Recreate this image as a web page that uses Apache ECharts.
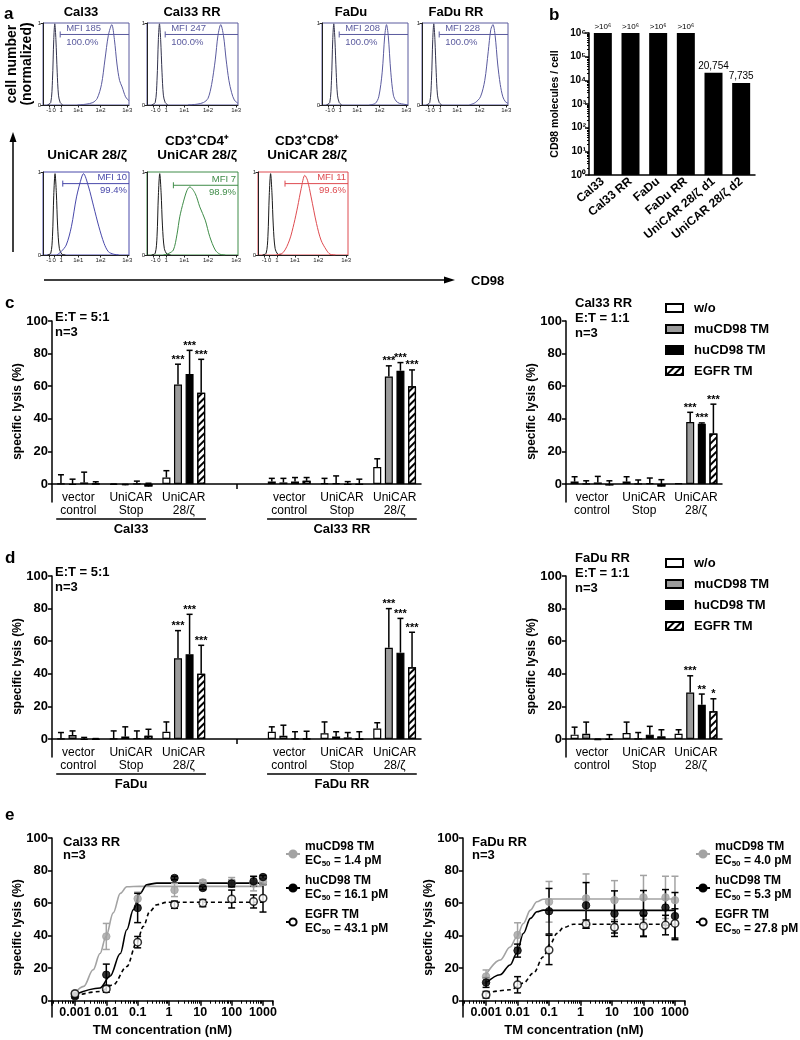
<!DOCTYPE html>
<html><head><meta charset="utf-8">
<script src="https://cdn.jsdelivr.net/npm/echarts@6/dist/echarts.min.js"></script>
<style>html,body{margin:0;padding:0;background:#fff}#c{width:800px;height:1040px}</style>
</head><body><div id="c"></div>
<script>
const FONT = '"Liberation Sans", Arial, Helvetica, sans-serif';

// ================= DATA =================
// ---- Panel a: flow cytometry histograms (x in display units of the biexponential axis, 0-100) ----
const histTickPos = [7, 13, 21, 41, 67, 98];
const histTickLabels = ['-1', '0', '1', '1e1', '1e2', '1e3'];
const histTitles = ['Cal33', 'Cal33 RR', 'FaDu', 'FaDu RR', 'UniCAR 28/ζ', 'CD3⁺CD4⁺\nUniCAR 28/ζ', 'CD3⁺CD8⁺\nUniCAR 28/ζ'];
const histMFI = ['MFI 185', 'MFI 247', 'MFI 208', 'MFI 228', 'MFI 10', 'MFI 7', 'MFI 11'];
const histPct = ['100.0%', '100.0%', '100.0%', '100.0%', '99.4%', '98.9%', '99.6%'];
const gateStart = [20, 20, 20, 20, 23, 29, 30];
const gateLevel = [0.86, 0.86, 0.86, 0.86, 0.86, 0.84, 0.86];
const ctrlTop = [[5,0],[9,0.03],[11,0.3],[12.5,0.8],[13.7,0.99],[15,0.8],[16.5,0.4],[18,0.12],[20,0.03],[23,0]];
const ctrlBottom = [[5,0],[9,0.02],[11,0.22],[12.5,0.72],[14,0.98],[15.5,0.75],[17,0.35],[19,0.08],[22,0.01],[26,0]];
const posCal33 = [[40,0],[50,0.01],[58,0.03],[63,0.08],[68,0.25],[72,0.55],[76,0.85],[80,0.98],[83,0.8],[86,0.5],[89,0.3],[92,0.22],[96,0.1],[100,0.05]];
const posCal33RR = [[45,0],[55,0.01],[62,0.03],[67,0.08],[71,0.25],[75,0.55],[78,0.85],[81,0.98],[84,0.85],[87,0.55],[90,0.3],[93,0.15],[96,0.06],[100,0.02]];
const posFaDu = [[55,0],[62,0.02],[66,0.1],[70,0.4],[73,0.85],[75,0.98],[77,0.85],[80,0.4],[83,0.12],[86,0.05],[90,0.02],[95,0.01],[100,0]];
const posFaDuRR = [[55,0],[62,0.03],[68,0.1],[73,0.3],[77,0.65],[80,0.92],[82.5,0.98],[85,0.85],[88,0.5],[91,0.25],[94,0.1],[97,0.04],[100,0.02]];
const posUniCAR = [[16,0],[21,0.04],[27,0.12],[33,0.34],[39,0.7],[45,0.94],[47,0.98],[53,0.82],[59,0.58],[65,0.34],[71,0.14],[76,0.04],[82,0.01],[88,0]];
const posCD4 = [[18,0],[24,0.02],[29,0.06],[33,0.25],[36,0.46],[40,0.64],[44,0.78],[47,0.82],[53,0.74],[58,0.58],[64,0.42],[69,0.22],[75,0.06],[80,0.01],[86,0]];
const posCD8 = [[20,0],[28,0.03],[35,0.18],[40,0.38],[44,0.58],[48,0.8],[52,0.96],[55,0.9],[59,0.7],[65,0.38],[70,0.18],[76,0.06],[80,0.01],[86,0]];

// ---- Panel b: CD98 molecules per cell ----
const bCategories = ['Cal33', 'Cal33 RR', 'FaDu', 'FaDu RR', 'UniCAR 28/ζ d1', 'UniCAR 28/ζ d2'];
const bValues = [1e6, 1e6, 1e6, 1e6, 20754, 7735];
const bValueLabels = ['>10⁶', '>10⁶', '>10⁶', '>10⁶', '20,754', '7,735'];

// ---- Panels c/d: specific lysis bar charts ----
const barNames = ['w/o', 'muCD98 TM', 'huCD98 TM', 'EGFR TM'];
const catsTwoLines = ['vector\ncontrol', 'UniCAR\nStop', 'UniCAR\n28/ζ', '', 'vector\ncontrol', 'UniCAR\nStop', 'UniCAR\n28/ζ'];
const catsOneLine = ['vector\ncontrol', 'UniCAR\nStop', 'UniCAR\n28/ζ'];
const lysisTicks = [0, 20, 40, 60, 80, 100];
const S3 = ['', '', '***', '', '', '', '***'];
const S3r = ['', '', '***'];

// c, left: Cal33 | Cal33 RR, E:T 5:1
const cL_wo = [0.3, -0.5, 4, null, 1.5, 0.5, 10.5];   const cL_woErr = [5.4, 0.5, 4.2, null, 2, 3, 5];
const cL_mu = [-0.5, -0.7, 61, null, 1, 0.5, 66];      const cL_muErr = [3.5, 0.5, 12.5, null, 2.5, 4.5, 6.5];
const cL_hu = [1, 0.3, 67.5, null, 1.5, -0.3, 69.5];    const cL_huErr = [6.3, 1.5, 14.5, null, 2.5, 1.8, 5];
const cL_eg = [0.2, -1.5, 56, null, 2, -0.3, 60];       const cL_egErr = [1.2, 2, 20.5, null, 2, 3.3, 10];
// c, right: Cal33 RR, E:T 1:1
const cR_wo = [1.5, 1.5, 0.5];  const cR_woErr = [3, 3, 0];
const cR_mu = [0.3, 0.2, 38];   const cR_muErr = [1.7, 2.3, 6];
const cR_hu = [1, 0.5, 37];     const cR_huErr = [3.7, 3.2, 0.5];
const cR_eg = [-0.8, -1.5, 31]; const cR_egErr = [2.8, 4.2, 18];
// d, left: FaDu | FaDu RR, E:T 5:1
const dL_wo = [0.3, 0.2, 4.5, null, 4.5, 3.5, 6.5];   const dL_woErr = [3.7, 4.8, 6, null, 3, 7, 3.5];
const dL_mu = [2.5, 1.5, 49.5, null, 2, 1.5, 56];     const dL_muErr = [2.5, 6, 17, null, 6.5, 3, 24];
const dL_hu = [-0.5, 0.5, 52, null, 0.3, 1, 53];      const dL_huErr = [1.5, 4.5, 24.5, null, 4.2, 3, 21];
const dL_eg = [-0.3, 2, 40, null, 0.3, 0, 44];        const dL_egErr = [0.6, 4, 17.5, null, 4.5, 4.5, 21.5];
// d, right: FaDu RR, E:T 1:1
const dR_wo = [2.7, 3.7, 3.3];   const dR_woErr = [4.6, 6.7, 2.4];
const dR_mu = [3.3, 0.2, 28.6];  const dR_muErr = [7.1, 3.8, 10.2];
const dR_hu = [-0.6, 2.7, 21];   const dR_huErr = [0.6, 5.1, 6.6];
const dR_eg = [-0.3, 1.6, 17];   const dR_egErr = [3, 4.1, 7.7];
const dR_huStars = ['', '', '**'];
const dR_egStars = ['', '', '*'];

// ---- Panel e: dose response (TM concentration in nM) ----
const eConc = [0.001, 0.01, 0.1, 1.5, 12, 100, 500, 1000];
const eL_muMean = [4.7, 39.5, 62.7, 68, 72.7, 72.7, 72, 73];     const eL_muSD = [1, 8, 4, 4, 1.5, 3, 4.5, 2];
const eL_huMean = [2.7, 16, 57, 75.4, 69.3, 72, 73.4, 76];       const eL_huSD = [1, 6.5, 9, 1, 1, 2, 3, 1];
const eL_egMean = [4.3, 7.2, 36, 59, 60, 62.5, 61, 63];          const eL_egSD = [1, 2, 3.5, 2.2, 2.2, 5.5, 4, 8.5];
const eL_muFit = [[0.001,4.7],[0.0019,8.8],[0.0038,19],[0.0063,29],[0.0098,39.5],[0.0166,54],[0.028,66],[0.045,70],[0.118,70.3],[1000,70.3]];
const eL_huFit = [[0.001,3.8],[0.0063,7.8],[0.0131,15],[0.028,29],[0.045,43.6],[0.073,56],[0.118,66],[0.194,71.3],[0.41,72.3],[1000,72.3]];
const eL_egFit = [[0.001,3],[0.0063,5.7],[0.0166,9.8],[0.045,21],[0.093,35.5],[0.152,45.7],[0.246,55],[0.41,59],[0.85,60.5],[1000,60.5]];
const eR_muMean = [14.9, 40.4, 60.8, 62.9, 61.8, 63.5, 63.5, 61.8]; const eR_muSD = [4, 7.5, 12.5, 15, 12, 13.5, 13, 14.7];
const eR_huMean = [11.2, 30.8, 55, 58.6, 53.5, 53.7, 57.3, 52];     const eR_huSD = [3, 4, 14, 14, 14, 14, 11, 14.5];
const eR_egMean = [3.7, 9.8, 31.2, 47.1, 45.1, 45.9, 46.5, 47.5];   const eR_egSD = [2, 5, 9, 2.5, 3.5, 6.5, 6, 9];
const eR_muFit = [[0.001,16],[0.0028,25],[0.0058,33],[0.0094,39],[0.0153,47.5],[0.0256,55.7],[0.041,60.8],[0.066,62.4],[0.146,62.5],[1000,62.5]];
const eR_huFit = [[0.001,10.8],[0.0028,16],[0.0058,22],[0.0094,29],[0.0153,41.4],[0.0256,50.6],[0.041,54.7],[0.066,55.7],[0.146,55.5],[1000,55.5]];
const eR_egFit = [[0.001,4.7],[0.0058,6.7],[0.0153,10.8],[0.032,17],[0.066,27],[0.11,35],[0.179,41.4],[0.29,45],[0.61,47],[1000,47]];
const eL_EC50 = ['1.4 pM', '16.1 pM', '43.1 pM'];
const eR_EC50 = ['4.0 pM', '5.3 pM', '27.8 pM'];
const eNames = ['muCD98 TM', 'huCD98 TM', 'EGFR TM'];

// ================= BUILD =================
const grids = [], xAxes = [], yAxes = [], series = [], legends = [], graphics = [];
const AX = {color: '#000', width: 1.5};
function txt(text, x, y, size, o) {
  o = o || {};
  return {type: 'text', x: x, y: y, rotation: o.rot || 0, z: 50,
    style: {text: text, fill: o.color || '#000', font: (o.weight || 'bold') + ' ' + size + 'px ' + FONT,
      align: o.align || 'left', verticalAlign: o.va || 'middle', lineHeight: o.lh}};
}

// ---- panel a ----
const histCurves = [posCal33, posCal33RR, posFaDu, posFaDuRR, posUniCAR, posCD4, posCD8];
const histColors = ['#5a5a9e', '#5a5a9e', '#5a5a9e', '#5a5a9e', '#4848aa', '#3f8c48', '#de4b50'];
const histLayout = [[43,23,86,82],[147,23,91,82],[322,23,86,82],[422,23,86,82],[43,172,86,83],[147,172,91,83],[258,172,90,83]];
const histTitleX = [81, 192, 351, 456, 87, 197, 307];
function gateRender(h) {
  return function (params, api) {
    const p0 = api.coord([api.value(0), api.value(1)]);
    const p1 = api.coord([100, api.value(1)]);
    const col = histColors[h];
    const right = h >= 4;
    const tx = right ? p1[0] - 2 : p0[0] + 6;
    const f = '9.5px ' + FONT;
    return {type: 'group', children: [
      {type: 'line', shape: {x1: p0[0], y1: p0[1], x2: p1[0], y2: p1[1]}, style: {stroke: col, lineWidth: 1}},
      {type: 'line', shape: {x1: p0[0], y1: p0[1] - 3, x2: p0[0], y2: p0[1] + 3}, style: {stroke: col, lineWidth: 1}},
      {type: 'text', x: tx, y: p0[1] - 1, style: {text: histMFI[h], fill: col, font: f, align: right ? 'right' : 'left', verticalAlign: 'bottom'}},
      {type: 'text', x: tx, y: p0[1] + (right ? 2 : 3), style: {text: histPct[h], fill: col, font: f, align: right ? 'right' : 'left', verticalAlign: 'top'}}
    ]};
  };
}
histLayout.forEach(function (L, h) {
  const gi = grids.length;
  grids.push({left: L[0], top: L[1], width: L[2], height: L[3], show: true, borderColor: histColors[h], borderWidth: 1, outerBoundsMode: 'none'});
  xAxes.push({type: 'value', gridIndex: gi, min: 0, max: 100,
    axisLine: {show: true, onZero: false, lineStyle: {color: '#222', width: 1}},
    axisTick: {show: true, customValues: histTickPos, length: 2.5, lineStyle: {color: '#222', width: 1}},
    axisLabel: {customValues: histTickPos, formatter: function (v) { return histTickLabels[histTickPos.indexOf(v)]; }, fontSize: 6, margin: 2, color: '#222', fontFamily: FONT},
    splitLine: {show: false}});
  yAxes.push({type: 'value', gridIndex: gi, min: 0, max: 1,
    axisLine: {show: true, onZero: false, lineStyle: {color: '#222', width: 1}},
    axisTick: {show: true, customValues: [0, 1], length: 2.5, lineStyle: {color: '#222', width: 1}},
    axisLabel: {customValues: [0, 1], fontSize: 6, margin: 2, color: '#222', fontFamily: FONT},
    splitLine: {show: false}});
  series.push({type: 'line', xAxisIndex: gi, yAxisIndex: gi, data: h < 4 ? ctrlTop : ctrlBottom, smooth: 0.3, showSymbol: false, silent: true,
    lineStyle: {color: h < 4 ? '#33334d' : '#1a1a1a', width: 1}});
  series.push({type: 'line', xAxisIndex: gi, yAxisIndex: gi, data: histCurves[h], smooth: 0.3, showSymbol: false, silent: true,
    lineStyle: {color: histColors[h], width: 1}});
  series.push({type: 'custom', xAxisIndex: gi, yAxisIndex: gi, silent: true, data: [[gateStart[h], gateLevel[h]]], renderItem: gateRender(h)});
  graphics.push(txt(histTitles[h], histTitleX[h], h < 4 ? 19 : 162, h < 4 ? 13 : 13.5, {align: 'center', va: 'bottom', lh: 14}));
});

// ---- panel b ----
(function () {
  const gi = grids.length;
  grids.push({left: 589, top: 33, width: 166, height: 142, outerBoundsMode: 'none'});
  const SUP = ['⁰', '¹', '²', '³', '⁴', '⁵', '⁶'];
  xAxes.push({type: 'category', gridIndex: gi, data: bCategories,
    axisLine: {lineStyle: AX}, axisTick: {show: false},
    axisLabel: {interval: 0, rotate: 40, fontSize: 12, fontWeight: 'bold', fontFamily: FONT, color: '#000', margin: 5}});
  yAxes.push({type: 'log', logBase: 10, gridIndex: gi, min: 1, max: 1e6,
    axisLine: {show: true, lineStyle: AX}, axisTick: {show: true, length: 4, lineStyle: AX},
    minorTick: {show: true, splitNumber: 9, length: 2, lineStyle: {color: '#000', width: 1}},
    axisLabel: {formatter: function (v) { return '10' + SUP[Math.round(Math.log10(v))]; }, fontSize: 10, fontWeight: 'bold', fontFamily: FONT, color: '#000', margin: 3},
    splitLine: {show: false}, minorSplitLine: {show: false},
    name: 'CD98 molecules / cell', nameLocation: 'middle', nameGap: 28, nameMoveOverlap: false,
    nameTextStyle: {fontSize: 10.5, fontWeight: 'bold', fontFamily: FONT, color: '#000'}});
  series.push({type: 'bar', xAxisIndex: gi, yAxisIndex: gi, barWidth: 18, silent: true,
    itemStyle: {color: '#000'},
    data: bValues.map(function (v, i) { return {value: v, label: {fontSize: i < 4 ? 8 : 10}}; }),
    label: {show: true, position: 'top', distance: 2, color: '#000', fontFamily: FONT,
      formatter: function (p) { return bValueLabels[p.dataIndex]; }}});
})();

// ---- panels c/d ----
const barStyles = [
  {color: '#fff', borderColor: '#000', borderWidth: 1.2},
  {color: '#9b9b9b', borderColor: '#000', borderWidth: 1.2},
  {color: '#000', borderColor: '#000', borderWidth: 1.2},
  {color: '#fff', borderColor: '#000', borderWidth: 1.2,
    decal: {symbol: 'rect', symbolSize: 1, color: '#000', dashArrayX: [1, 0], dashArrayY: [2, 2.5], rotation: -Math.PI / 4}}
];
const BW = 8, BGAP = 0.45;
function barErr(off, stars) {
  return function (params, api) {
    const i = api.value(0), v = api.value(1), e = api.value(2);
    const b = api.coord([i, v]), t = api.coord([i, v + e]);
    const x = b[0] + off;
    const ch = [];
    const st = {stroke: '#000', lineWidth: 1.5};
    if (e > 0) {
      ch.push({type: 'line', shape: {x1: x, y1: b[1], x2: x, y2: t[1]}, style: st});
      ch.push({type: 'line', shape: {x1: x - 3, y1: t[1], x2: x + 3, y2: t[1]}, style: st});
    }
    if (stars && stars[i]) ch.push({type: 'text', x: x, y: t[1] + 1, style: {text: stars[i], fill: '#000', font: 'bold 11px ' + FONT, align: 'center', verticalAlign: 'bottom'}});
    return {type: 'group', children: ch};
  };
}
function groupRender(names) {
  return function (params, api) {
    const p = api.coord([api.value(0), 0]);
    const half = api.size([1, 0])[0] * 1.42;
    const y = p[1] + 35;
    return {type: 'group', children: [
      {type: 'line', shape: {x1: p[0] - half, y1: y, x2: p[0] + half, y2: y}, style: {stroke: '#000', lineWidth: 1.5}},
      {type: 'text', x: p[0], y: y + 4, style: {text: names[params.dataIndex], fill: '#000', font: 'bold 13px ' + FONT, align: 'center', verticalAlign: 'top'}}
    ]};
  };
}
function addBarPanel(L, cats, sets, gapIdx, groups) {
  const gi = grids.length;
  grids.push({left: L[0], top: L[1], width: L[2], height: L[3], outerBoundsMode: 'none'});
  xAxes.push({type: 'category', gridIndex: gi, data: cats,
    axisLine: {onZero: true, lineStyle: AX},
    axisTick: {show: gapIdx != null, alignWithLabel: true, interval: function (i) { return i === gapIdx; }, length: 5, lineStyle: AX},
    axisLabel: {interval: 0, fontSize: 12, fontFamily: FONT, color: '#000', lineHeight: 13, margin: -11}});
  yAxes.push({type: 'value', gridIndex: gi, min: -11, max: 100,
    axisLine: {show: true, onZero: false, lineStyle: AX},
    axisTick: {show: true, customValues: lysisTicks, length: 4, lineStyle: AX},
    axisLabel: {customValues: lysisTicks, fontSize: 13, fontWeight: 'bold', fontFamily: FONT, color: '#000', margin: 4},
    splitLine: {show: false},
    name: 'specific lysis (%)', nameLocation: 'middle', nameGap: 28, nameMoveOverlap: false,
    nameTextStyle: {fontSize: 12, fontWeight: 'bold', fontFamily: FONT, color: '#000'}});
  sets.forEach(function (s, k) {
    series.push({type: 'bar', name: barNames[k], xAxisIndex: gi, yAxisIndex: gi, silent: true,
      data: s.v.map(function (v) { return v == null ? '-' : v; }), barWidth: BW, barGap: (BGAP * 100) + '%', itemStyle: barStyles[k]});
  });
  sets.forEach(function (s, k) {
    const off = (k - 1.5) * BW * (1 + BGAP);
    const d = [];
    s.v.forEach(function (v, i) { if (v != null) d.push([i, v, s.e[i]]); });
    series.push({type: 'custom', xAxisIndex: gi, yAxisIndex: gi, silent: true, z: 3, data: d, renderItem: barErr(off, s.s)});
  });
  if (groups) {
    series.push({type: 'custom', xAxisIndex: gi, yAxisIndex: gi, silent: true,
      data: groups.idx.map(function (c) { return [c, 0]; }), renderItem: groupRender(groups.names)});
  }
}
addBarPanel([52, 321, 369, 181], catsTwoLines, [
  {v: cL_wo, e: cL_woErr}, {v: cL_mu, e: cL_muErr, s: S3}, {v: cL_hu, e: cL_huErr, s: S3}, {v: cL_eg, e: cL_egErr, s: S3}
], 3, {idx: [1, 5], names: ['Cal33', 'Cal33 RR']});
addBarPanel([566, 321, 156, 181], catsOneLine, [
  {v: cR_wo, e: cR_woErr}, {v: cR_mu, e: cR_muErr, s: S3r}, {v: cR_hu, e: cR_huErr, s: S3r}, {v: cR_eg, e: cR_egErr, s: S3r}
], null, null);
addBarPanel([52, 576, 369, 181], catsTwoLines, [
  {v: dL_wo, e: dL_woErr}, {v: dL_mu, e: dL_muErr, s: S3}, {v: dL_hu, e: dL_huErr, s: S3}, {v: dL_eg, e: dL_egErr, s: S3}
], 3, {idx: [1, 5], names: ['FaDu', 'FaDu RR']});
addBarPanel([566, 576, 156, 181], catsOneLine, [
  {v: dR_wo, e: dR_woErr}, {v: dR_mu, e: dR_muErr, s: S3r}, {v: dR_hu, e: dR_huErr, s: dR_huStars}, {v: dR_eg, e: dR_egErr, s: dR_egStars}
], null, null);
[296, 551].forEach(function (top) {
  legends.push({orient: 'vertical', left: 660, top: top, icon: 'rect', itemWidth: 17, itemHeight: 8, itemGap: 7,
    selectedMode: false, data: barNames,
    textStyle: {fontSize: 13, fontWeight: 'bold', fontFamily: FONT, color: '#000', lineHeight: 14, padding: [0, 0, 0, 6]}});
});

// ---- panel e ----
function eErr(color) {
  return function (params, api) {
    const x = api.value(0), m = api.value(1), sd = api.value(2);
    const pt = api.coord([x, m + sd]), pb = api.coord([x, m - sd]);
    const w = 3.5, st = {stroke: color, lineWidth: 1.5};
    return {type: 'group', children: [
      {type: 'line', shape: {x1: pt[0], y1: pt[1], x2: pb[0], y2: pb[1]}, style: st},
      {type: 'line', shape: {x1: pt[0] - w, y1: pt[1], x2: pt[0] + w, y2: pt[1]}, style: st},
      {type: 'line', shape: {x1: pb[0] - w, y1: pb[1], x2: pb[0] + w, y2: pb[1]}, style: st}
    ]};
  };
}
const eStyles = [
  {line: {color: '#a3a3a3', width: 1.6, type: 'solid'}, item: {color: '#a3a3a3', borderColor: '#a3a3a3', borderWidth: 1}, err: '#a3a3a3'},
  {line: {color: '#000', width: 1.6, type: 'solid'}, item: {color: '#000', borderColor: '#000', borderWidth: 1}, err: '#000'},
  {line: {color: '#000', width: 1.6, type: [4, 3]}, item: {color: '#fff', borderColor: '#000', borderWidth: 1.5}, err: '#000'}
];
function addEPanel(L, tag, fits, means, sds, ec50, legendLeft) {
  const gi = grids.length;
  grids.push({left: L[0], top: L[1], width: L[2], height: L[3], outerBoundsMode: 'none'});
  xAxes.push({type: 'log', logBase: 10, gridIndex: gi, min: 0.000185, max: 2084,
    axisLine: {onZero: true, lineStyle: AX}, axisTick: {show: true, length: 5, lineStyle: AX},
    minorTick: {show: true, splitNumber: 9, length: 3, lineStyle: {color: '#000', width: 1}},
    axisLabel: {showMinLabel: false, showMaxLabel: false, fontSize: 12.5, fontWeight: 'bold', fontFamily: FONT, color: '#000', margin: -11,
      formatter: function (v) { return String(parseFloat(Number(v).toPrecision(4))); }},
    splitLine: {show: false}, minorSplitLine: {show: false},
    name: 'TM concentration (nM)', nameLocation: 'middle', nameGap: 7, nameMoveOverlap: false,
    nameTextStyle: {fontSize: 13, fontWeight: 'bold', fontFamily: FONT, color: '#000', verticalAlign: 'top'}});
  yAxes.push({type: 'value', gridIndex: gi, min: -10, max: 100,
    axisLine: {show: true, onZero: false, lineStyle: AX},
    axisTick: {show: true, customValues: lysisTicks, length: 4, lineStyle: AX},
    axisLabel: {customValues: lysisTicks, fontSize: 13, fontWeight: 'bold', fontFamily: FONT, color: '#000', margin: 4},
    splitLine: {show: false},
    name: 'specific lysis (%)', nameLocation: 'middle', nameGap: 28, nameMoveOverlap: false,
    nameTextStyle: {fontSize: 12, fontWeight: 'bold', fontFamily: FONT, color: '#000'}});
  const lnames = [];
  const labelMap = {};
  fits.forEach(function (f, k) {
    const nm = eNames[k] + ' [' + tag + ']';
    lnames.push(nm);
    labelMap[nm] = '{t|' + eNames[k] + '}\n{t|EC}{s|50}{t| = ' + ec50[k] + '}';
    series.push({type: 'line', name: nm, xAxisIndex: gi, yAxisIndex: gi, data: f, smooth: 0.35, smoothMonotone: 'x',
      symbol: 'circle', showSymbol: false, silent: true, lineStyle: eStyles[k].line, itemStyle: eStyles[k].item, z: 2});
  });
  means.forEach(function (m, k) {
    series.push({type: 'custom', xAxisIndex: gi, yAxisIndex: gi, silent: true, z: 3,
      data: eConc.map(function (c, i) { return [c, m[i], sds[k][i]]; }), renderItem: eErr(eStyles[k].err)});
  });
  means.forEach(function (m, k) {
    series.push({type: 'scatter', xAxisIndex: gi, yAxisIndex: gi, silent: true, z: 4, symbol: 'circle', symbolSize: 7.5,
      data: eConc.map(function (c, i) { return [c, m[i]]; }), itemStyle: eStyles[k].item});
  });
  legends.push({orient: 'vertical', left: legendLeft, top: 836, itemWidth: 14, itemHeight: 9, itemGap: 7, selectedMode: false,
    data: lnames, formatter: function (n) { return labelMap[n]; },
    textStyle: {fontFamily: FONT, color: '#000',
      rich: {t: {fontSize: 12, fontWeight: 'bold', fontFamily: FONT, color: '#000', lineHeight: 14},
             s: {fontSize: 8, fontWeight: 'bold', fontFamily: FONT, color: '#000', lineHeight: 14, verticalAlign: 'bottom'}}}});
}
addEPanel([52, 838, 221, 179], 'L', [eL_muFit, eL_huFit, eL_egFit], [eL_muMean, eL_huMean, eL_egMean], [eL_muSD, eL_huSD, eL_egSD], eL_EC50, 280);
addEPanel([463, 838, 222, 179], 'R', [eR_muFit, eR_huFit, eR_egFit], [eR_muMean, eR_huMean, eR_egMean], [eR_muSD, eR_huSD, eR_egSD], eR_EC50, 690);

// ---- annotations ----
graphics.push(txt('a', 4, 14, 17));
graphics.push(txt('b', 549, 15, 17));
graphics.push(txt('c', 5, 303, 17));
graphics.push(txt('d', 5, 558, 17));
graphics.push(txt('e', 5, 815, 17));
graphics.push(txt('cell number\n(normalized)', 20, 64, 14, {rot: Math.PI / 2, align: 'center', lh: 15}));
graphics.push({type: 'line', shape: {x1: 13, y1: 252, x2: 13, y2: 140}, style: {stroke: '#000', lineWidth: 1.5}});
graphics.push({type: 'polygon', shape: {points: [[13, 132], [9.5, 142], [16.5, 142]]}, style: {fill: '#000'}});
graphics.push({type: 'line', shape: {x1: 44, y1: 280, x2: 446, y2: 280}, style: {stroke: '#000', lineWidth: 1.5}});
graphics.push({type: 'polygon', shape: {points: [[455, 280], [444, 276.5], [444, 283.5]]}, style: {fill: '#000'}});
graphics.push(txt('CD98', 471, 281, 13));
graphics.push(txt('E:T = 5:1\nn=3', 55, 325, 13, {lh: 15}));
graphics.push(txt('Cal33 RR\nE:T = 1:1\nn=3', 575, 318, 13, {lh: 15}));
graphics.push(txt('E:T = 5:1\nn=3', 55, 580, 13, {lh: 15}));
graphics.push(txt('FaDu RR\nE:T = 1:1\nn=3', 575, 573, 13, {lh: 15}));
graphics.push(txt('Cal33 RR\nn=3', 63, 849, 13, {lh: 13}));
graphics.push(txt('FaDu RR\nn=3', 472, 849, 13, {lh: 13}));

const chart = echarts.init(document.getElementById('c'), null, {renderer: 'canvas'});
chart.setOption({
  animation: false,
  backgroundColor: '#fff',
  textStyle: {fontFamily: FONT},
  grid: grids, xAxis: xAxes, yAxis: yAxes, series: series, legend: legends,
  graphic: {elements: graphics}
});
</script></body></html>
